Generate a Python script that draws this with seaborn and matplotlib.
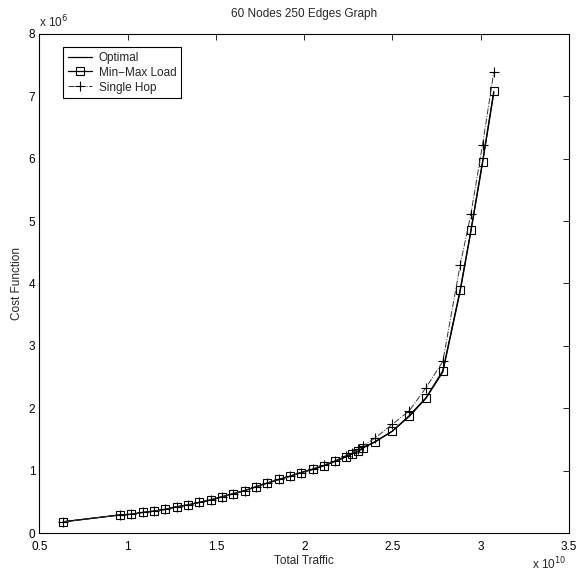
import numpy as np
import pandas as pd
import matplotlib
matplotlib.use("Agg")
import matplotlib.pyplot as plt
import seaborn as sns

# data (x in units of 1e10, y in units of 1e6)
traffic = [0.635, 0.956, 1.019, 1.085, 1.149, 1.213, 1.277, 1.341, 1.405, 1.470,
           1.534, 1.598, 1.662, 1.726, 1.790, 1.858, 1.919, 1.983, 2.047, 2.111,
           2.175, 2.235, 2.270, 2.305, 2.335, 2.400, 2.498, 2.595, 2.690, 2.785,
           2.883, 2.944, 3.010, 3.074]
optimal = [0.18, 0.29, 0.30, 0.33, 0.35, 0.38, 0.42, 0.45, 0.49, 0.53,
           0.58, 0.63, 0.68, 0.74, 0.80, 0.86, 0.91, 0.97, 1.02, 1.08,
           1.15, 1.22, 1.27, 1.31, 1.37, 1.46, 1.63, 1.87, 2.16, 2.58,
           3.87, 4.83, 5.93, 7.06]
minmax_load = [0.18, 0.29, 0.30, 0.33, 0.35, 0.38, 0.42, 0.45, 0.49, 0.53,
               0.58, 0.63, 0.68, 0.74, 0.80, 0.86, 0.91, 0.97, 1.02, 1.08,
               1.15, 1.22, 1.27, 1.31, 1.37, 1.46, 1.63, 1.88, 2.17, 2.60,
               3.89, 4.85, 5.95, 7.08]
single_hop = [0.18, 0.29, 0.30, 0.33, 0.35, 0.38, 0.42, 0.45, 0.49, 0.53,
              0.58, 0.63, 0.68, 0.74, 0.80, 0.86, 0.91, 0.97, 1.03, 1.09,
              1.16, 1.24, 1.29, 1.34, 1.40, 1.52, 1.74, 1.96, 2.33, 2.75,
              4.29, 5.11, 6.22, 7.39]

sns.set_style("white")
plt.rcParams['font.family'] = ['Liberation Sans', 'DejaVu Sans']
plt.rcParams['font.size'] = 8.5

df = pd.DataFrame({"traffic": traffic, "Optimal": optimal,
                   "Min\u2212Max Load": minmax_load, "Single Hop": single_hop})

fig = plt.figure(figsize=(5.83, 5.74), dpi=100)
ax = fig.add_axes([0.0676, 0.0714, 0.9084, 0.8694])

sns.lineplot(data=df, x="traffic", y="Optimal", ax=ax, color="black",
             linewidth=0.9, label="Optimal")
sns.lineplot(data=df, x="traffic", y="Min\u2212Max Load", ax=ax, color="black",
             linewidth=0.9, marker="s", markersize=5.5, markerfacecolor="none",
             markeredgecolor="black", markeredgewidth=0.8, label="Min\u2212Max Load")
sns.lineplot(data=df, x="traffic", y="Single Hop", ax=ax, color="#333333",
             linewidth=0.7, linestyle="-.", marker="+", markersize=6.5,
             markeredgecolor="black", markeredgewidth=0.8, label="Single Hop")

ax.set_xlim(0.5, 3.5)
ax.set_ylim(0, 8)
ax.set_xticks([0.5, 1, 1.5, 2, 2.5, 3, 3.5])
ax.set_xticklabels(["0.5", "1", "1.5", "2", "2.5", "3", "3.5"])
ax.set_yticks(range(0, 9))
ax.tick_params(direction="in", top=True, right=True, length=4, width=0.6,
               labelsize=8.5, pad=3, colors="black")
ax.tick_params(axis="x", pad=5.5)
for s in ax.spines.values():
    s.set_color("black")
    s.set_linewidth(0.8)

ax.set_xlabel("Total Traffic", fontsize=8.5, labelpad=2)
ax.set_ylabel("Cost Function", fontsize=8.5, labelpad=4)
ax.set_title("60 Nodes 250 Edges Graph", fontsize=8.5, pad=12)
ax.text(0.0, 1.008, "x 10$^{6}$", transform=ax.transAxes, fontsize=8.5,
        ha="left", va="bottom")
ax.text(0.995, -0.046, "x 10$^{10}$", transform=ax.transAxes, fontsize=8.5,
        ha="right", va="top")

leg = ax.legend(loc="upper left", bbox_to_anchor=(0.045, 0.974), borderaxespad=0,
                fancybox=False, framealpha=1, edgecolor="black", fontsize=8.5,
                handlelength=2.0, handletextpad=0.6, labelspacing=0.25,
                borderpad=0.4)
leg.get_frame().set_linewidth(0.8)

fig.savefig("out.png", dpi=100)
